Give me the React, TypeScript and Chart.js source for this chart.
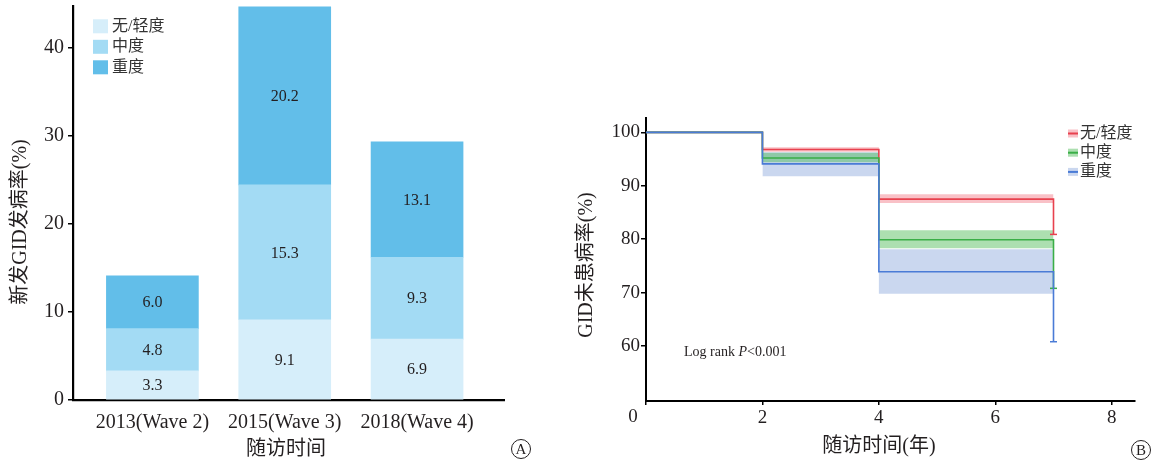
import React, { useEffect, useRef } from "react";
import { Chart, registerables } from "chart.js";

Chart.register(...registerables);

// ---------- Panel A data ----------
const waveLabels = ["2013(Wave 2)", "2015(Wave 3)", "2018(Wave 4)"];
const waveX = [1, 2, 3];
const severityNames = ["无/轻度", "中度", "重度"];
const mildValues = [3.3, 9.1, 6.9];
const moderateValues = [4.8, 15.3, 9.3];
const severeValues = [6.0, 20.2, 13.1];
const barYTicks = [0, 10, 20, 30, 40];

// ---------- Panel B data ----------
const kmXTicks = [0, 2, 4, 6, 8];
const kmYTicks = [60, 70, 80, 90, 100];
const kmTimes = [0, 2, 4, 7];
const mildSurv = [100, 96.8, 87.5, 80.9];
const moderateSurv = [100, 95.2, 79.9, 70.8];
const severeSurv = [100, 94.1, 73.9, 60.8];
const ciTimes = [2, 4, 7];
const mildUpper = [97.2, 88.4, 88.4];
const mildLower = [96.4, 86.8, 86.8];
const moderateUpper = [96.2, 81.7, 81.7];
const moderateLower = [94.4, 78.3, 78.3];
const severeUpper = [96.3, 78.1, 78.1];
const severeLower = [91.8, 69.8, 69.8];

const SERIF = "'Liberation Serif', 'Noto Sans CJK SC', serif";
const TEXT = "#231f20";

const barColors = ["#d6eefa", "#a3dbf4", "#62bee9"];
const kmLine = ["#e8414e", "#3aae47", "#4a7bd6"];
const kmBand = ["rgba(240,100,115,0.40)", "rgba(70,185,80,0.45)", "rgba(90,130,205,0.32)"];

function circled(ctx: CanvasRenderingContext2D, letter: string, x: number, y: number) {
  ctx.save();
  ctx.beginPath();
  ctx.arc(x, y, 9.5, 0, Math.PI * 2);
  ctx.lineWidth = 1;
  ctx.strokeStyle = TEXT;
  ctx.stroke();
  ctx.fillStyle = TEXT;
  ctx.font = `15px ${SERIF}`;
  ctx.textAlign = "center";
  ctx.textBaseline = "middle";
  ctx.fillText(letter, x, y + 1);
  ctx.restore();
}

const barPlugin = {
  id: "barDecor",
  afterDatasetsDraw(chart: any) {
    const ctx = chart.ctx as CanvasRenderingContext2D;
    ctx.save();
    ctx.font = `16px ${SERIF}`;
    ctx.fillStyle = TEXT;
    ctx.textAlign = "center";
    ctx.textBaseline = "middle";
    chart.data.datasets.forEach((ds: any, di: number) => {
      const meta = chart.getDatasetMeta(di);
      meta.data.forEach((el: any, i: number) => {
        const v = ds.data[i].y as number;
        ctx.fillText(v.toFixed(1), el.x, (el.y + el.base) / 2 + 1);
      });
    });
    ctx.restore();
  },
  afterDraw(chart: any) {
    const ctx = chart.ctx as CanvasRenderingContext2D;
    const ca = chart.chartArea;
    ctx.save();
    // legend
    ctx.font = `16px ${SERIF}`;
    ctx.textBaseline = "middle";
    ctx.textAlign = "left";
    severityNames.forEach((name, i) => {
      const y = ca.top + 20.3 + i * 20.5;
      ctx.fillStyle = barColors[i];
      ctx.fillRect(ca.left + 20, y - 7, 15, 14);
      ctx.fillStyle = "#333";
      ctx.fillText(name, ca.left + 39, y);
    });
    // axis titles
    ctx.fillStyle = TEXT;
    ctx.font = `20px ${SERIF}`;
    ctx.textAlign = "center";
    ctx.fillText("随访时间", 286, 450);
    ctx.save();
    ctx.translate(21, 222);
    ctx.rotate(-Math.PI / 2);
    ctx.fillText("新发GID发病率(%)", 0, 0);
    ctx.restore();
    ctx.restore();
    circled(ctx, "A", 521, 449);
  },
};

const kmPlugin = {
  id: "kmDecor",
  afterDraw(chart: any) {
    const ctx = chart.ctx as CanvasRenderingContext2D;
    const ca = chart.chartArea;
    ctx.save();
    // legend
    ctx.font = `16px ${SERIF}`;
    ctx.textBaseline = "middle";
    ctx.textAlign = "left";
    severityNames.forEach((name, i) => {
      const y = 133.5 + i * 19.2;
      ctx.fillStyle = kmBand[i];
      ctx.fillRect(508, y - 4, 10, 8);
      ctx.fillStyle = kmLine[i];
      ctx.fillRect(508, y - 1, 10, 2);
      ctx.fillStyle = "#333";
      ctx.fillText(name, 520, y);
    });
    // log rank text
    ctx.fillStyle = TEXT;
    let x = 124;
    const parts: [string, boolean][] = [["Log rank ", false], ["P", true], ["<0.001", false]];
    parts.forEach(([t, it]) => {
      ctx.font = `${it ? "italic " : ""}14px ${SERIF}`;
      ctx.fillText(t, x, 352);
      x += ctx.measureText(t).width;
    });
    // "0" label offset left of the axis
    ctx.font = `19px ${SERIF}`;
    ctx.textAlign = "center";
    ctx.fillText(String(kmXTicks[0]), ca.left - 13, 417);
    // axis titles
    ctx.font = `20px ${SERIF}`;
    ctx.fillText("随访时间(年)", 319, 447);
    ctx.save();
    ctx.translate(27, 265);
    ctx.rotate(-Math.PI / 2);
    ctx.fillText("GID未患病率(%)", 0, 0);
    ctx.restore();
    ctx.restore();
    circled(ctx, "B", 581, 450);
  },
};

function stepLine(times: number[], vals: number[], color: string) {
  return {
    data: times.map((t, i) => ({ x: t, y: vals[i] })),
    borderColor: color,
    backgroundColor: color,
    borderWidth: 1.6,
    stepped: "before" as const,
    fill: false,
    pointStyle: "line" as const,
    pointRadius: (c: any) => (c.dataIndex === times.length - 1 ? 3.5 : 0),
    pointBorderColor: color,
    pointBorderWidth: 1.5,
  };
}

function band(times: number[], vals: number[], color: string, fillPrev: boolean) {
  return {
    data: times.map((t, i) => ({ x: t, y: vals[i] })),
    borderWidth: 0,
    borderColor: "rgba(0,0,0,0)",
    backgroundColor: color,
    stepped: "before" as const,
    fill: fillPrev ? "-1" : false,
    pointRadius: 0,
  };
}

const fontA = { family: SERIF, size: 20 };
const fontB = { family: SERIF, size: 19 };

export default function App() {
  const refA = useRef<HTMLCanvasElement>(null);
  const refB = useRef<HTMLCanvasElement>(null);

  useEffect(() => {
    const barSeries = [mildValues, moderateValues, severeValues];
    const chartA = new Chart(refA.current as HTMLCanvasElement, {
      type: "bar",
      data: {
        datasets: barSeries.map((vals, si) => ({
          label: severityNames[si],
          data: waveX.map((x, i) => ({ x, y: vals[i] })),
          backgroundColor: barColors[si],
          borderWidth: 0,
          barThickness: 92,
          stack: "s",
        })),
      } as any,
      options: {
        responsive: false,
        animation: false,
        layout: { padding: { left: 0, right: 56, top: 6, bottom: 0 } },
        plugins: { legend: { display: false }, tooltip: { enabled: false } },
        scales: {
          x: {
            type: "linear",
            stacked: true,
            offset: false,
            min: 0.4,
            max: 3.657,
            afterBuildTicks: (s: any) => {
              s.ticks = waveX.map((v) => ({ value: v }));
            },
            afterFit: (s: any) => {
              s.height = 64;
              s.paddingLeft = 0;
              s.paddingRight = 0;
            },
            ticks: {
              callback: (v: any) => waveLabels[Math.round(Number(v)) - 1] ?? "",
              font: fontA,
              color: TEXT,
              padding: 11,
              maxRotation: 0,
              autoSkip: false,
            },
            grid: { display: false, drawTicks: false },
            border: { display: true, color: "#000", width: 2.2 },
          },
          y: {
            type: "linear",
            stacked: true,
            min: 0,
            max: 44.7,
            afterBuildTicks: (s: any) => {
              s.ticks = barYTicks.map((v) => ({ value: v }));
            },
            afterFit: (s: any) => {
              s.width = 73;
              s.paddingTop = 0;
              s.paddingBottom = 0;
            },
            ticks: { font: fontA, color: TEXT, padding: 4 },
            grid: {
              display: true,
              drawOnChartArea: false,
              drawTicks: true,
              tickLength: 5,
              color: "#000",
              lineWidth: 1.5,
            },
            border: { display: true, color: "#000", width: 2.2 },
          },
        },
      } as any,
      plugins: [barPlugin],
    });

    const chartB = new Chart(refB.current as HTMLCanvasElement, {
      type: "line",
      data: {
        datasets: [
          stepLine(kmTimes, severeSurv, kmLine[2]),
          stepLine(kmTimes, moderateSurv, kmLine[1]),
          stepLine(kmTimes, mildSurv, kmLine[0]),
          band(ciTimes, mildUpper, kmBand[0], false),
          band(ciTimes, mildLower, kmBand[0], true),
          band(ciTimes, moderateUpper, kmBand[1], false),
          band(ciTimes, moderateLower, kmBand[1], true),
          band(ciTimes, severeUpper, kmBand[2], false),
          band(ciTimes, severeLower, kmBand[2], true),
        ],
      } as any,
      options: {
        responsive: false,
        animation: false,
        layout: { padding: { left: 0, right: 22, top: 118, bottom: 0 } },
        plugins: { legend: { display: false }, tooltip: { enabled: false } },
        scales: {
          x: {
            type: "linear",
            min: 0,
            max: 8.4,
            afterBuildTicks: (s: any) => {
              s.ticks = kmXTicks.map((v) => ({ value: v }));
            },
            afterFit: (s: any) => {
              s.height = 63;
              s.paddingLeft = 0;
              s.paddingRight = 0;
            },
            ticks: {
              callback: (v: any) => (Number(v) === 0 ? "" : String(v)),
              font: fontB,
              color: TEXT,
              padding: 2,
              maxRotation: 0,
              autoSkip: false,
            },
            grid: {
              display: true,
              drawOnChartArea: false,
              drawTicks: true,
              tickLength: 4,
              color: "#000",
              lineWidth: 1.5,
            },
            border: { display: true, color: "#000", width: 2 },
          },
          y: {
            type: "linear",
            min: 49.7,
            max: 102.7,
            afterBuildTicks: (s: any) => {
              s.ticks = kmYTicks.map((v) => ({ value: v }));
            },
            afterFit: (s: any) => {
              s.width = 86;
              s.paddingTop = 0;
              s.paddingBottom = 0;
            },
            ticks: { font: fontB, color: TEXT, padding: 1 },
            grid: {
              display: true,
              drawOnChartArea: false,
              drawTicks: true,
              tickLength: 5,
              color: "#000",
              lineWidth: 1.5,
            },
            border: { display: true, color: "#000", width: 2 },
          },
        },
      } as any,
      plugins: [kmPlugin],
    });

    return () => {
      chartA.destroy();
      chartB.destroy();
    };
  }, []);

  return (
    <div
      style={{
        position: "absolute",
        left: 0,
        top: 0,
        width: 1157,
        height: 464,
        background: "#fff",
      }}
    >
      <canvas
        ref={refA}
        width={560}
        height={464}
        style={{ position: "absolute", left: 0, top: 0, width: 560, height: 464 }}
      />
      <canvas
        ref={refB}
        width={597}
        height={464}
        style={{ position: "absolute", left: 560, top: 0, width: 597, height: 464 }}
      />
    </div>
  );
}
